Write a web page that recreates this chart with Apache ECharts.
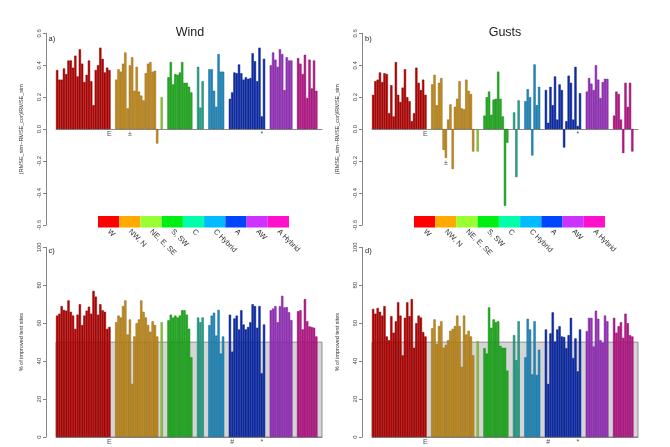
<!DOCTYPE html>
<html>
<head>
<meta charset="utf-8">
<script src="https://cdn.jsdelivr.net/npm/echarts@6/dist/echarts.min.js"></script>
<style>
  html, body { margin: 0; padding: 0; background: #fff; }
  #chart { width: 670px; height: 447px; }
</style>
</head>
<body>
<div id="chart"></div>
<script>
// weather type groups
const groupNames = ["W", "NW, N", "NE, E, SE", "S, SW", "C", "C Hybrid", "A", "AW", "A Hybrid"];
const legendColors = ["#ff0000", "#ffaa00", "#99ff33", "#00ee11", "#00ffaa", "#00bbff", "#0044ff", "#cc33ff", "#ff11cc"];
const barColors = ["#c00000", "#c8901c", "#94c83c", "#1fb41f", "#27a88a", "#1e8fc4", "#0c2db4", "#9e30c4", "#c0168e"];
const edgeColors = ["#7a0000", "#8a6010", "#60901c", "#0c7a0c", "#157060", "#0e5e88", "#061c78", "#6a1e88", "#800a5e"];

// a) Wind: (RMSE_sim - RMSE_cor)/RMSE_sim
const windRmse = [
  [0.37, 0.31, 0.31, 0.38, 0.345, 0.43, 0.43, 0.385, 0.46, 0.33, 0.50, 0.41, 0.295, 0.34, 0.43, 0.30, 0.15, 0.37, 0.40, 0.51, 0.44, 0.355, 0.385, 0.37],
  [0.31, 0.375, 0.36, 0.41, 0.48, 0.13, 0.40, 0.45, 0.24, 0.39, 0.235, 0.21, 0.18, 0.35, 0.41, 0.42, 0.36, 0.365, -0.09],
  [0.20],
  [0.325, 0.42, 0.28, 0.345, 0.34, 0.355, 0.42, 0.29, 0.29, 0.265, 0.23],
  [0.39, 0.135, 0.30],
  [0.375, 0.375, 0.24, 0.14, 0.47, 0.36, 0.36],
  [0.19, 0.23, 0.355, 0.35, 0.405, 0.35, 0.31, 0.325, 0.315, 0.32, 0.475, 0.425, 0.30, 0.51, 0.08, 0.44],
  [0.40, 0.48, 0.435, 0.39, 0.50, 0.47, 0.245, 0.45, 0.43, 0.43],
  [0.445, 0.41, 0.345, 0.465, 0.195, 0.435, 0.255, 0.43, 0.24]
];

// b) Gusts
const gustRmse = [
  [0.215, 0.30, 0.31, 0.355, 0.295, 0.35, 0.345, 0.10, 0.275, 0.08, 0.42, 0.215, 0.17, 0.26, 0.375, 0.20, 0.175, 0.05, 0.10, 0.385, 0.29, 0.245, 0.31, 0.215],
  [0.28, 0.34, 0.15, 0.29, 0.32, -0.13, -0.18, 0.06, 0.155, -0.25, 0.14, 0.19, 0.30, 0.13, 0.125, 0.31, 0.24, 0.22, -0.14],
  [-0.14],
  [0.085, 0.20, 0.235, 0.09, 0.185, 0.19, 0.36, 0.19, 0.08, -0.48, -0.085],
  [0.105, -0.30, 0.18],
  [0.175, 0.25, 0.20, -0.165, 0.405, 0.15, 0.265],
  [0.245, 0.04, 0.265, 0.15, 0.33, 0.06, 0.28, 0.245, -0.115, 0.05, 0.335, 0.29, 0.06, 0.39, 0.02, 0.225],
  [0.235, 0.32, 0.285, 0.245, 0.40, 0.31, 0.195, 0.295, 0.315, 0.315],
  [0.085, 0.235, 0.22, 0.06, -0.15, 0.29, 0.14, 0.29, -0.14]
];

// c) Wind: % of improved test sites
const windPct = [
  [64, 65, 69, 67, 66.6, 72, 66, 64, 57, 64.5, 70, 59, 64, 66.6, 68.7, 65, 77, 74, 64.5, 70, 66.8, 66, 57, 58],
  [60.5, 64, 63, 69, 72, 54, 62, 28, 53, 60, 62, 72, 66, 63, 59, 55.5, 61, 59, 53],
  [60.5],
  [61.5, 64.5, 63, 64, 63, 64, 66.8, 66.8, 64.5, 57, 42],
  [63, 60.5, 63],
  [59, 64, 65.5, 53.5, 67, 44, 53],
  [64.5, 45, 62.5, 64, 56.7, 66.8, 59.3, 56.7, 58, 60.5, 70, 69, 57.6, 69, 33.6, 59.3],
  [66.8, 67.7, 69, 60.5, 68.9, 74.4, 68.3, 68.5, 65.7, 61.6],
  [66.3, 66.8, 56.7, 72.7, 61, 58.3, 58, 57.6, 53]
];

// d) Gusts: % of improved test sites
const gustPct = [
  [67.5, 65, 68, 66, 64, 69, 53, 51, 63.7, 55, 61, 71, 64, 43, 62.8, 71, 63.7, 72.7, 47, 60, 64, 63, 55.3, 53],
  [57.3, 62, 49, 58.5, 61, 47, 48.5, 51, 56, 57, 58.5, 64, 58.5, 37, 64, 54, 56, 53, 43],
  [50.5],
  [46.8, 44, 68.3, 57.6, 62, 60.5, 61, 48, 47, 47, 35],
  [53.7, 40.5, 61],
  [42, 62.3, 56.7, 33, 61, 32.7, 46],
  [56.7, 28, 54.6, 65.7, 50.3, 56.7, 58.4, 53, 52.7, 46.8, 53.7, 62.8, 41.6, 52, 34.6, 56.7],
  [55.8, 62.8, 62.8, 47.7, 66.6, 62.3, 51, 49.7, 64, 61],
  [62.8, 55, 58.4, 60.5, 52.3, 65, 60, 53.7, 53]
];

// markers under bars: [symbol, group, bar index]
const rmseMarks = [["E", 0, 23], ["\u00b1", 1, 6], ["*", 6, 14]];
const pctMarks = [["E", 0, 23], ["#", 6, 1], ["*", 6, 14]];

// empty slots in front of each group, and after the last one
const gapsBefore = [0, 2, 1, 2, 2, 2, 2, 2, 2];
const tailSlots = 2;

const starts = [];
let nSlots = 0;
windRmse.forEach((vals, g) => {
  nSlots += gapsBefore[g];
  starts.push(nSlots);
  nSlots += vals.length;
});
nSlots += tailSlots;
const slotCats = Array.from({ length: nSlots }, (_, i) => String(i));

function barData(groups) {
  const out = new Array(nSlots).fill("-");
  groups.forEach((vals, g) => {
    vals.forEach((v, k) => {
      out[starts[g] + k] = {
        value: v,
        itemStyle: { color: barColors[g], borderColor: edgeColors[g], borderWidth: 0.5 }
      };
    });
  });
  return out;
}

function markData(groups, marks) {
  return marks.map(([sym, g, k]) => ({
    name: sym,
    value: [starts[g] + k, Math.min(0, groups[g][k])]
  }));
}

const panels = [
  { data: windRmse, marks: rmseMarks, left: 56, top: 33.3, bottom: 222, rmse: true },
  { data: gustRmse, marks: rmseMarks, left: 372, top: 33.3, bottom: 222, rmse: true },
  { data: windPct, marks: pctMarks, left: 56, top: 247.3, bottom: 10, rmse: false },
  { data: gustPct, marks: pctMarks, left: 372, top: 247.3, bottom: 10, rmse: false }
];

const grids = [], xAxes = [], yAxes = [], series = [];

panels.forEach((p, i) => {
  grids.push({ left: p.left, width: 266, top: p.top, bottom: p.bottom });
  xAxes.push({
    type: "category",
    gridIndex: i,
    data: slotCats,
    axisLine: { show: true, onZero: true, lineStyle: { color: "#8c8c8c", width: 1 } },
    axisTick: { show: false },
    axisLabel: { show: false },
    splitLine: { show: false }
  });
  yAxes.push({
    type: "value",
    gridIndex: i,
    min: p.rmse ? -0.6 : 0,
    max: p.rmse ? 0.6 : 100,
    interval: p.rmse ? 0.2 : 20,
    offset: 10,
    name: p.rmse ? "(RMSE_sim\u2212RMSE_cor)/RMSE_sim" : "% of improved test sites",
    nameLocation: "middle",
    nameGap: 22,
    nameTextStyle: { fontSize: 5.5, color: "#333" },
    axisLine: { show: true, lineStyle: { color: "#666", width: 0.8 } },
    axisTick: { show: true, length: 3, lineStyle: { color: "#666", width: 0.8 } },
    axisLabel: {
      rotate: 90,
      fontSize: 6,
      margin: 4,
      color: "#444",
      formatter: v => p.rmse ? (Math.abs(v) < 1e-9 ? 0 : v).toFixed(1) : String(Math.round(v))
    },
    splitLine: { show: false }
  });
  if (!p.rmse) {
    series.push({
      type: "line",
      xAxisIndex: i,
      yAxisIndex: i,
      data: [],
      z: 1,
      silent: true,
      markArea: {
        silent: true,
        itemStyle: { color: "#d5d5d5", borderColor: "#7a7a7a", borderWidth: 0.8 },
        data: [[{ yAxis: 0 }, { yAxis: 50 }]]
      }
    });
  }
  series.push({
    type: "bar",
    xAxisIndex: i,
    yAxisIndex: i,
    data: barData(p.data),
    barCategoryGap: "0%",
    z: 3,
    silent: true
  });
  series.push({
    type: "scatter",
    xAxisIndex: i,
    yAxisIndex: i,
    data: markData(p.data, p.marks),
    symbolSize: 1,
    itemStyle: { color: "rgba(0,0,0,0)" },
    z: 4,
    silent: true,
    label: {
      show: true,
      position: "bottom",
      distance: 1,
      formatter: "{b}",
      fontSize: 7,
      color: "#222"
    }
  });
});

// colour keys under the top panels
[98, 414].forEach(left => {
  const i = grids.length;
  grids.push({ left: left, width: 191, top: 216, height: 11.5 });
  xAxes.push({
    type: "category",
    gridIndex: i,
    data: groupNames,
    axisLine: { show: false },
    axisTick: { show: false },
    axisLabel: { rotate: -45, fontSize: 7.5, margin: 3, color: "#333", interval: 0 }
  });
  yAxes.push({ type: "value", gridIndex: i, min: 0, max: 1, show: false });
  series.push({
    type: "bar",
    xAxisIndex: i,
    yAxisIndex: i,
    barCategoryGap: "0%",
    silent: true,
    data: groupNames.map((n, g) => ({ value: 1, itemStyle: { color: legendColors[g] } }))
  });
});

const chart = echarts.init(document.getElementById("chart"), null, { renderer: "canvas" });
chart.setOption({
  animation: false,
  backgroundColor: "#fff",
  textStyle: { fontFamily: "Liberation Sans, Arial, sans-serif" },
  title: [
    { text: "Wind", left: 185, top: 21, textAlign: "center", textStyle: { fontSize: 12.5, fontWeight: "normal", color: "#222" } },
    { text: "Gusts", left: 500, top: 21, textAlign: "center", textStyle: { fontSize: 12.5, fontWeight: "normal", color: "#222" } }
  ],
  graphic: [
    { type: "text", left: 48.5, top: 34.5, style: { text: "a)", fontSize: 7.5, fill: "#222" } },
    { type: "text", left: 365, top: 34.5, style: { text: "b)", fontSize: 7.5, fill: "#222" } },
    { type: "text", left: 48.5, top: 247, style: { text: "c)", fontSize: 7.5, fill: "#222" } },
    { type: "text", left: 365, top: 247, style: { text: "d)", fontSize: 7.5, fill: "#222" } }
  ],
  grid: grids,
  xAxis: xAxes,
  yAxis: yAxes,
  series: series
});

window.addEventListener("resize", () => {
  chart.resize();
});
</script>
</body>
</html>
